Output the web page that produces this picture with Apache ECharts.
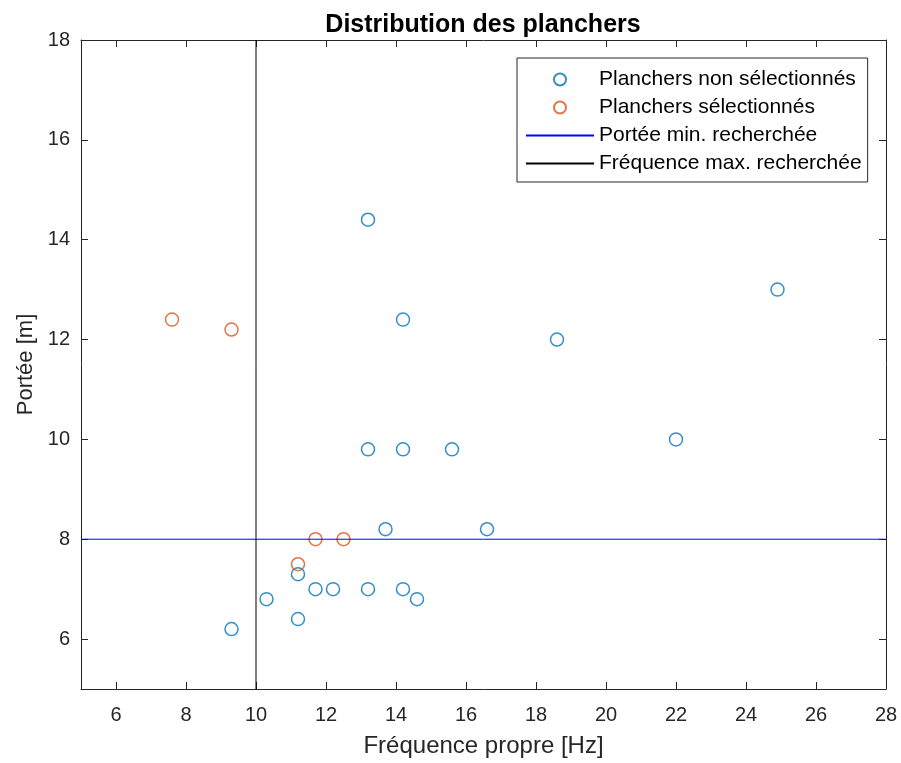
<!DOCTYPE html>
<html>
<head>
<meta charset="utf-8">
<title>Distribution des planchers</title>
<script src="https://cdn.jsdelivr.net/npm/echarts@6/dist/echarts.min.js"></script>
<style>
  html, body { margin: 0; padding: 0; background: #fff; }
  #chart { width: 901px; height: 763px; }
</style>
</head>
<body>
<div id="chart"></div>
<script>
// Floors not retained: natural frequency [Hz] and span [m]
const nonSelFreq = [13.2, 14.2, 18.6, 24.9, 22.0, 13.2, 14.2, 15.6, 13.7, 16.6, 11.2, 11.7, 12.2, 13.2, 14.2, 14.6, 10.3, 11.2, 9.3];
const nonSelSpan = [14.4, 12.4, 12.0, 13.0, 10.0, 9.8, 9.8, 9.8, 8.2, 8.2, 7.3, 7.0, 7.0, 7.0, 7.0, 6.8, 6.8, 6.4, 6.2];

// Selected floors
const selFreq = [7.6, 9.3, 11.2, 11.7, 12.5];
const selSpan = [12.4, 12.2, 7.5, 8.0, 8.0];

// Search criteria
const minSpan = 8;   // minimum span sought [m]
const maxFreq = 10;  // maximum frequency sought [Hz]

// Axis ranges and tick values
const xRange = [5, 28];
const yRange = [5, 18];
const xTicks = [6, 8, 10, 12, 14, 16, 18, 20, 22, 24, 26, 28];
const yTicks = [6, 8, 10, 12, 14, 16, 18];

const seriesNames = [
  'Planchers non sélectionnés',
  'Planchers sélectionnés',
  'Portée min. recherchée',
  'Fréquence max. recherchée'
];

const FONT = "'Liberation Sans', Arial, Helvetica, sans-serif";
const AXIS_COLOR = '#262626';
const BLUE = '#0072BD';
const ORANGE = '#D95319';
const NO_FILL = 'rgba(255,255,255,0)';

const zip = (xs, ys) => xs.map((x, i) => [x, ys[i]]);

function boxAxis(kind, position, withLabels, extent, ticks) {
  return {
    type: 'value',
    position: position,
    min: extent[0],
    max: extent[1],
    axisLine: { show: true, onZero: false, lineStyle: { color: AXIS_COLOR, width: 1 } },
    axisTick: { show: true, inside: true, length: 7, customValues: ticks, lineStyle: { color: AXIS_COLOR, width: 1 } },
    axisLabel: withLabels ? {
      show: true,
      customValues: ticks,
      color: AXIS_COLOR,
      fontFamily: FONT,
      fontSize: 20,
      margin: kind === 'x' ? 16 : 11
    } : { show: false },
    splitLine: { show: false }
  };
}

// Criterion line drawn across the whole axis range
function criterionSeries(name, color, points) {
  return {
    name: name,
    type: 'line',
    xAxisIndex: 0,
    yAxisIndex: 0,
    data: points,
    symbol: 'none',
    showSymbol: false,
    silent: true,
    color: color,
    lineStyle: { color: color, width: 1, type: 'solid' },
    itemStyle: { color: color },
    emphasis: { disabled: true },
    z: 3
  };
}

const chart = echarts.init(document.getElementById('chart'), null, { renderer: 'canvas' });

const xMain = boxAxis('x', 'bottom', true, xRange, xTicks);
xMain.name = 'Fréquence propre [Hz]';
xMain.nameLocation = 'middle';
xMain.nameGap = 45;
xMain.nameTextStyle = { color: AXIS_COLOR, fontFamily: FONT, fontSize: 24 };

const yMain = boxAxis('y', 'left', true, yRange, yTicks);
yMain.name = 'Portée [m]';
yMain.nameLocation = 'middle';
yMain.nameGap = 40;
yMain.nameTextStyle = { color: AXIS_COLOR, fontFamily: FONT, fontSize: 22 };

// Legend entries: line entries hide the marker the line icon would carry
const legendData = seriesNames.map((name, i) => i < 2
  ? { name: name }
  : { name: name, itemStyle: { color: NO_FILL, borderWidth: 0, opacity: 0 } });

const option = {
  backgroundColor: '#fff',
  animation: false,
  title: {
    text: 'Distribution des planchers',
    left: 478,
    top: 8,
    textAlign: 'center',
    textStyle: { color: '#000', fontFamily: FONT, fontSize: 25, fontWeight: 'bold' }
  },
  grid: { left: 81, right: 15, top: 40, bottom: 72, containLabel: false },
  xAxis: [xMain, boxAxis('x', 'top', false, xRange, xTicks)],
  yAxis: [yMain, boxAxis('y', 'right', false, yRange, yTicks)],
  legend: {
    orient: 'vertical',
    left: 517,
    top: 58,
    padding: [11, 6, 8, 8],
    itemWidth: 68,
    itemHeight: 12,
    itemGap: 7,
    backgroundColor: '#fff',
    borderColor: AXIS_COLOR,
    borderWidth: 1,
    borderRadius: 0,
    selectedMode: false,
    data: legendData,
    textStyle: { color: '#000', fontFamily: FONT, fontSize: 21, lineHeight: 21 },
    z: 10
  },
  series: [
    {
      name: seriesNames[0],
      type: 'scatter',
      xAxisIndex: 0,
      yAxisIndex: 0,
      data: zip(nonSelFreq, nonSelSpan),
      symbol: 'circle',
      symbolSize: 13,
      itemStyle: { color: NO_FILL, borderColor: BLUE, borderWidth: 1.5 },
      emphasis: { disabled: true }
    },
    {
      name: seriesNames[1],
      type: 'scatter',
      xAxisIndex: 0,
      yAxisIndex: 0,
      data: zip(selFreq, selSpan),
      symbol: 'circle',
      symbolSize: 13,
      itemStyle: { color: NO_FILL, borderColor: ORANGE, borderWidth: 1.5 },
      emphasis: { disabled: true }
    },
    criterionSeries(seriesNames[2], '#0000FF', [[xRange[0], minSpan], [xRange[1], minSpan]]),
    criterionSeries(seriesNames[3], '#000000', [[maxFreq, yRange[0]], [maxFreq, yRange[1]]])
  ]
};

chart.setOption(option);
</script>
</body>
</html>
